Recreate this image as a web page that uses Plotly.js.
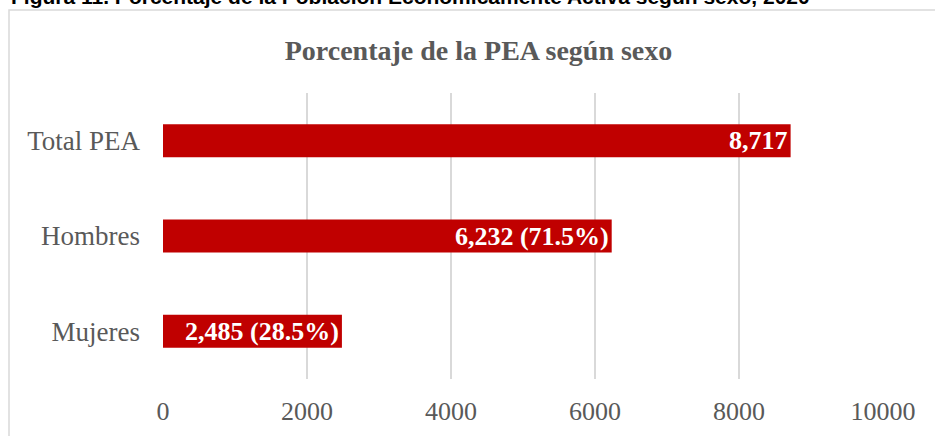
<!DOCTYPE html>
<html>
<head>
<meta charset="utf-8">
<script src="https://cdn.plot.ly/plotly-3.0.1.min.js"></script>
<style>
  html, body { margin: 0; padding: 0; background: #ffffff; }
  #chart { width: 935px; height: 436px; }
</style>
</head>
<body>
<div id="chart"></div>
<script>
// Data
const categories = ['Mujeres', 'Hombres', 'Total PEA'];
const values = [2485, 6232, 8717];
const barLabels = ['2,485 (28.5%)', '6,232 (71.5%)', '8,717'];
const xTicks = [0, 2000, 4000, 6000, 8000, 10000];
const chartTitle = 'Porcentaje de la PEA según sexo';
const caption = 'Figura 11. Porcentaje de la Población Económicamente Activa según sexo, 2020';

const W = 935, H = 436;
const M = { l: 163, r: 52, t: 93, b: 57 };
const pw = W - M.l - M.r, ph = H - M.t - M.b;
const px = x => (x - M.l) / pw;          // pixel -> paper x
const py = y => (H - M.b - y) / ph;      // pixel -> paper y

const serif = 'Liberation Serif, Times New Roman, serif';

const trace = {
  type: 'bar',
  orientation: 'h',
  y: categories,
  x: values,
  text: barLabels,
  textposition: 'inside',
  insidetextanchor: 'end',
  constraintext: 'none',
  textfont: { family: serif, size: 26, color: '#ffffff', weight: 'bold' },
  marker: { color: '#C00000', line: { width: 0 } },
  hoverinfo: 'none'
};

const layout = {
  width: W, height: H,
  margin: M,
  paper_bgcolor: '#ffffff',
  plot_bgcolor: '#ffffff',
  showlegend: false,
  bargap: 0.654,
  font: { family: serif, color: '#595959' },
  title: {
    text: '<b>' + chartTitle + '</b>',
    font: { family: serif, size: 28, color: '#595959' },
    xref: 'container', x: 478.5 / W, xanchor: 'center',
    yref: 'container', y: 1 - 50 / H, yanchor: 'middle'
  },
  xaxis: {
    range: [0, 10000],
    tickvals: xTicks,
    ticktext: xTicks.map(String),
    showgrid: true,
    gridcolor: '#d9d9d9',
    gridwidth: 1.5,
    zeroline: false,
    showline: false,
    ticks: '',
    ticklabelstandoff: 14,
    tickfont: { family: serif, size: 26, color: '#595959' },
    fixedrange: true
  },
  yaxis: {
    type: 'category',
    categoryorder: 'array',
    categoryarray: categories,
    showgrid: false,
    zeroline: false,
    showline: false,
    ticks: '',
    ticklabelstandoff: 22,
    tickfont: { family: serif, size: 27, color: '#595959' },
    fixedrange: true
  },
  shapes: [{
    type: 'rect', xref: 'paper', yref: 'paper',
    x0: px(9), x1: px(945), y0: py(446), y1: py(10),
    line: { color: '#d9d9d9', width: 1.5 },
    fillcolor: 'rgba(0,0,0,0)',
    layer: 'below'
  }],
  annotations: [{
    text: '<b>' + caption + '</b>',
    xref: 'paper', yref: 'paper',
    x: px(10), xanchor: 'left',
    y: py(9), yanchor: 'bottom',
    showarrow: false,
    borderpad: 0,
    font: { family: 'Liberation Sans, Arial, sans-serif', size: 21, color: '#000000' }
  }]
};

Plotly.newPlot('chart', [trace], layout, { displayModeBar: false, staticPlot: true });
</script>
</body>
</html>
